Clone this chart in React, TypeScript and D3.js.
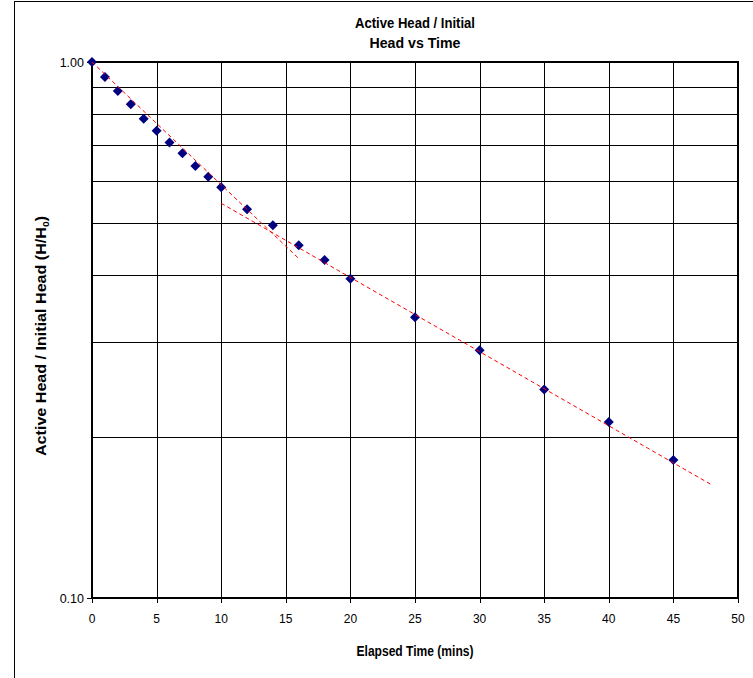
import React from "react";
import * as d3 from "d3";

const times = [0, 1, 2, 3, 4, 5, 6, 7, 8, 9, 10, 12, 14, 16, 18, 20, 25, 30, 35, 40, 45];
const ratios = [1.0, 0.938, 0.883, 0.834, 0.784, 0.744, 0.708, 0.676, 0.64, 0.611, 0.584, 0.531, 0.496, 0.455, 0.427, 0.394, 0.334, 0.29, 0.245, 0.213, 0.181];
// exponential trendlines (straight on log axis): [x, y] endpoints
const trendEarly: [number, number][] = [[0, 1.0], [16, 0.43]];
const trendLate: [number, number][] = [[10, 0.545], [48, 0.1624]];
const xTicks = [0, 5, 10, 15, 20, 25, 30, 35, 40, 45, 50];
const yGrid = [0.1, 0.2, 0.3, 0.4, 0.5, 0.6, 0.7, 0.8, 0.9, 1.0];
const yLabels = [0.1, 1.0];

const W = 753, H = 678;
const L = 92, R = 738, T = 62, B = 598;
const font = "'Liberation Sans', Arial, sans-serif";

export default function App() {
  const x = d3.scaleLinear().domain([0, 50]).range([L, R]);
  const y = d3.scaleLog().domain([0.1, 1]).range([B, T]);
  const line = d3.line<[number, number]>().x(d => x(d[0])).y(d => y(d[1]));
  const diamond = (cx: number, cy: number, r: number) =>
    `M${cx},${cy - r}L${cx + r},${cy}L${cx},${cy + r}L${cx - r},${cy}Z`;

  return (
    <svg width={W} height={H} style={{ position: "absolute", left: 0, top: 0, background: "#fff" }}>
      <rect x={0} y={0} width={W} height={H} fill="#fff" />
      <rect x={14.5} y={1.5} width={900} height={900} fill="none" stroke="#000" strokeWidth={1} />
      <text x={(L + R) / 2} y={28} textAnchor="middle" fontFamily={font} fontWeight="bold" fontSize={14.5} textLength={120} lengthAdjust="spacingAndGlyphs">Active Head / Initial</text>
      <text x={(L + R) / 2} y={48} textAnchor="middle" fontFamily={font} fontWeight="bold" fontSize={14.5} textLength={91} lengthAdjust="spacingAndGlyphs">Head vs Time</text>
      {/* grid */}
      {yGrid.map(v => (
        <line key={"h" + v} x1={L} x2={R} y1={Math.round(y(v)) + 0.5} y2={Math.round(y(v)) + 0.5} stroke="#000" strokeWidth={1} />
      ))}
      {xTicks.map(t => (
        <line key={"v" + t} x1={Math.round(x(t)) + 0.5} x2={Math.round(x(t)) + 0.5} y1={T} y2={B} stroke="#000" strokeWidth={1} />
      ))}
      <rect x={L} y={T} width={R - L} height={B - T} fill="none" stroke="#000" strokeWidth={2} />
      {/* ticks */}
      {xTicks.map(t => (
        <g key={"xt" + t}>
          <line x1={Math.round(x(t)) + 0.5} x2={Math.round(x(t)) + 0.5} y1={B} y2={B + 5} stroke="#000" />
          <text x={x(t)} y={623} textAnchor="middle" fontFamily={font} fontSize={12}>{t}</text>
        </g>
      ))}
      {yLabels.map(v => (
        <g key={"yt" + v}>
          <line x1={L - 5} x2={L} y1={Math.round(y(v)) + 0.5} y2={Math.round(y(v)) + 0.5} stroke="#000" />
          <text x={L - 8} y={y(v) + 4.5} textAnchor="end" fontFamily={font} fontSize={12.5}>{v.toFixed(2)}</text>
        </g>
      ))}
      <text x={(L + R) / 2} y={656} textAnchor="middle" fontFamily={font} fontWeight="bold" fontSize={14} textLength={117} lengthAdjust="spacingAndGlyphs">Elapsed Time (mins)</text>
      <text transform={`translate(46,336) rotate(-90) scale(1.15,1)`} textAnchor="middle" fontFamily={font} fontWeight="bold" fontSize={14}>
        Active Head / Initial Head (H/H<tspan fontSize={9} dy={3}>0</tspan><tspan dy={-3}>)</tspan>
      </text>
      {/* data */}
      {times.map((t, i) => (
        <path key={"p" + i} d={diamond(x(t), y(ratios[i]), 5)} fill="#000080" />
      ))}
      <path d={line(trendEarly) || ""} fill="none" stroke="#ff0000" strokeWidth={1} strokeDasharray="4,3" />
      <path d={line(trendLate) || ""} fill="none" stroke="#ff0000" strokeWidth={1} strokeDasharray="4,3" />
    </svg>
  );
}
